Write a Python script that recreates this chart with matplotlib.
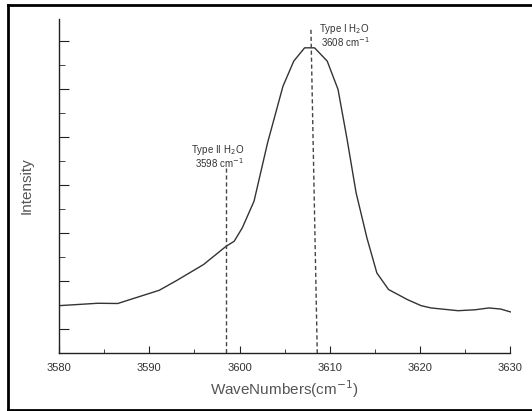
import numpy as np
import matplotlib
matplotlib.use("Agg")
import matplotlib.pyplot as plt
from matplotlib.lines import Line2D

plt.rcParams['font.family'] = ['Liberation Sans', 'DejaVu Sans']

# Spectrum (arbitrary intensity units)
wavenumber = [3580.0, 3584.3, 3586.5, 3591.1, 3593.0, 3596.0, 3598.5, 3599.4,
              3600.3, 3601.6, 3603.1, 3604.8, 3606.0, 3607.2, 3608.3, 3609.7,
              3610.9, 3611.9, 3612.9, 3614.1, 3615.2, 3616.5, 3618.6, 3620.1,
              3621.2, 3624.2, 3626.1, 3627.6, 3628.9, 3630.0]
intensity = [1.97, 2.07, 2.06, 2.61, 3.01, 3.68, 4.44, 4.65,
             5.21, 6.32, 8.75, 11.1, 12.15, 12.7, 12.7, 12.15,
             10.97, 8.9, 6.67, 4.79, 3.33, 2.64, 2.22, 1.97,
             1.875, 1.76, 1.80, 1.875, 1.83, 1.71]

# Marker lines (x at top, x at bottom)
type2_x = [3598.5, 3598.5]
type2_y = [7.7, 0.0]
type1_x = [3607.9, 3608.6]
type1_y = [13.45, 0.0]

fig = plt.figure(figsize=(5.32, 4.11), dpi=100)

# outer frame: left, top and bottom only (right side is cut off)
fx0, fy0, fy1 = 7.5 / 532, 1 - 409.5 / 411, 1 - 5.5 / 411
for xs, ys in [([fx0, fx0], [fy0, fy1]), ([fx0, 1.01], [fy1, fy1]),
               ([fx0, 1.01], [fy0, fy0])]:
    fig.add_artist(Line2D(xs, ys, transform=fig.transFigure,
                          color='black', linewidth=2, solid_capstyle='projecting'))

ax = fig.add_axes([59 / 532, 58 / 411, 451.5 / 532, 334 / 411])
ax.plot(wavenumber, intensity, color='#333333', linewidth=1.0)
ax.plot(type2_x, type2_y, color='#444444', linestyle=(0, (3, 2)), linewidth=1.0)
ax.plot(type1_x, type1_y, color='#444444', linestyle=(0, (3, 2)), linewidth=1.0)

ax.text(3600.5, 8.45, 'Type II H$_2$O', fontsize=7, color='#333333',
        ha='right', va='center')
ax.text(3600.5, 7.9, '3598 cm$^{-1}$', fontsize=7, color='#333333',
        ha='right', va='center')
ax.text(3614.4, 13.5, 'Type I H$_2$O', fontsize=7, color='#333333',
        ha='right', va='center')
ax.text(3614.4, 12.93, '3608 cm$^{-1}$', fontsize=7, color='#333333',
        ha='right', va='center')

ax.set_xlim(3580, 3630)
ax.set_ylim(0, 13.9)
ax.set_xticks(np.arange(3580, 3631, 10))
ax.set_xticks(np.arange(3585, 3630, 10), minor=True)
ax.set_yticks(np.arange(1, 14, 2))
ax.set_yticks(np.arange(2, 13, 2), minor=True)
ax.set_yticklabels([])

ax.spines['top'].set_visible(False)
ax.spines['right'].set_visible(False)
for s in ('left', 'bottom'):
    ax.spines[s].set_linewidth(1.0)
    ax.spines[s].set_color('#222222')

ax.tick_params(axis='both', which='both', direction='in', color='#222222')
ax.tick_params(axis='x', which='major', length=5, labelsize=8,
               labelcolor='#333333', pad=7)
ax.tick_params(axis='x', which='minor', length=3)
ax.tick_params(axis='y', which='major', length=7)
ax.tick_params(axis='y', which='minor', length=4)
ax.tick_params(axis='y', which='both', labelleft=False)

ax.set_xlabel('WaveNumbers(cm$^{-1}$)', fontsize=11, color='#555555', labelpad=4)
ax.set_ylabel('Intensity', fontsize=11, color='#555555', labelpad=18)

fig.savefig('out.png', dpi=100)
